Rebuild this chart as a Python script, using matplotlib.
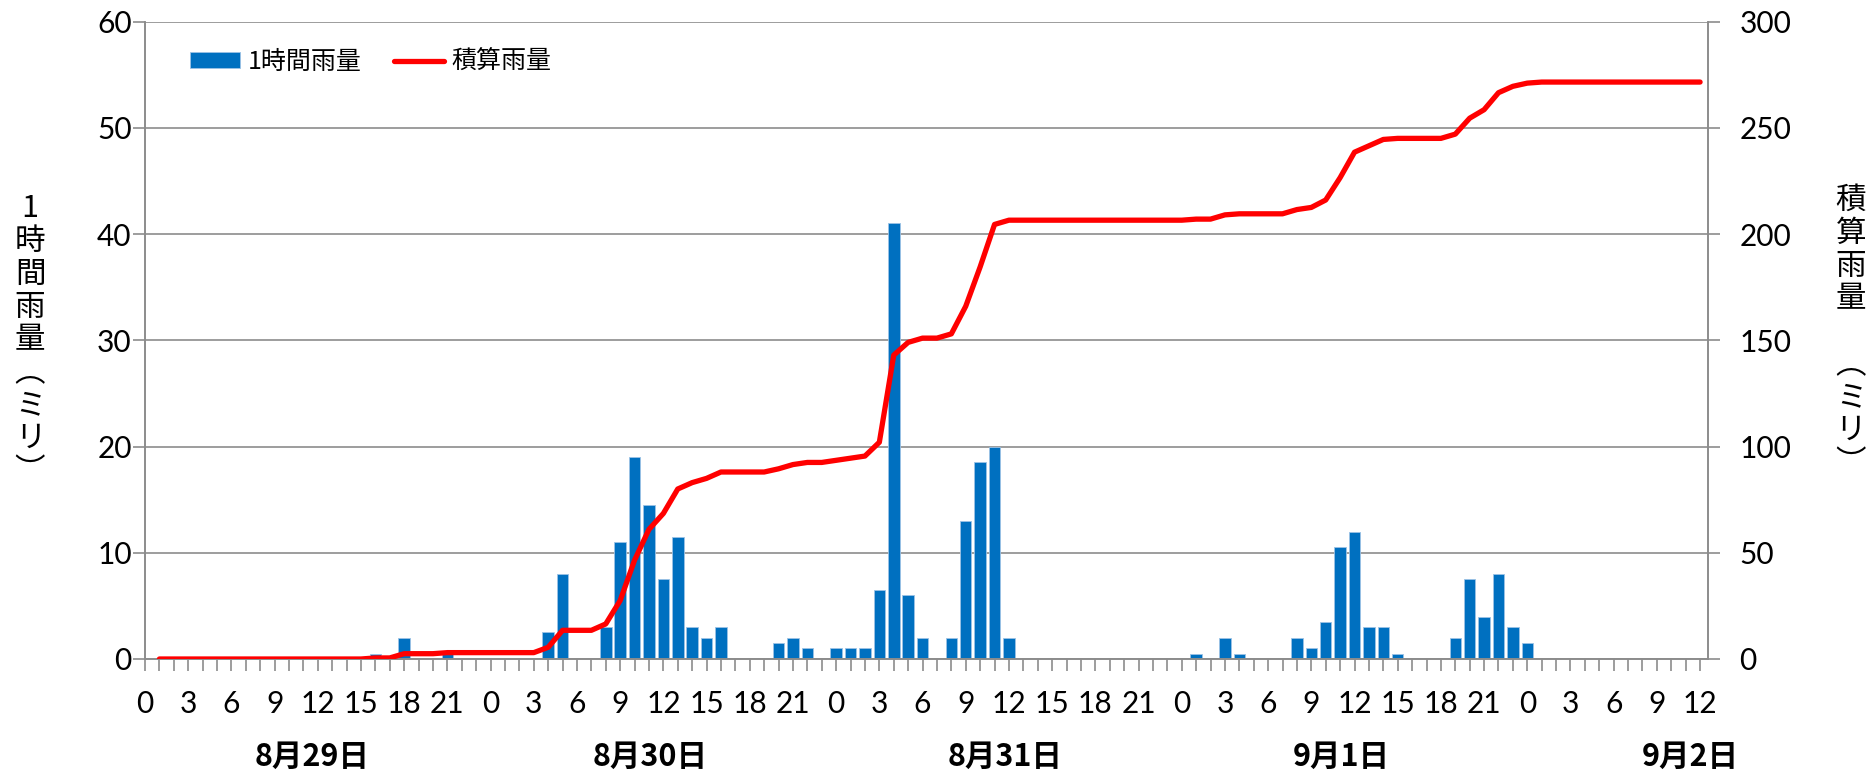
import matplotlib
matplotlib.use("Agg")
import matplotlib.pyplot as plt
from matplotlib.lines import Line2D

# ---------------- data ----------------
# hourly rainfall (mm); index h = 1..108, hour 0 of 8/29 is the left edge
rain_aug29 = [0, 0, 0, 0, 0, 0, 0, 0, 0, 0, 0, 0,
              0, 0, 0, 0.5, 0, 2, 0, 0, 0.5, 0, 0, 0]
rain_aug30 = [0, 0, 0, 2.5, 8, 0, 0, 3, 11, 19, 14.5, 7.5,
              11.5, 3, 2, 3, 0, 0, 0, 1.5, 2, 1, 0, 1]
rain_aug31 = [1, 1, 6.5, 41, 6, 2, 0, 2, 13, 18.5, 20, 2,
              0, 0, 0, 0, 0, 0, 0, 0, 0, 0, 0, 0]
rain_sep01 = [0.5, 0, 2, 0.5, 0, 0, 0, 2, 1, 3.5, 10.5, 12,
              3, 3, 0.5, 0, 0, 0, 2, 7.5, 4, 8, 3, 1.5]
rain_sep02 = [0, 0, 0, 0, 0, 0, 0, 0, 0, 0, 0, 0]

# accumulated rainfall (mm)
cum_aug29 = [0, 0, 0, 0, 0, 0, 0, 0, 0, 0, 0, 0,
             0, 0, 0, 0.5, 0.5, 2.5, 2.5, 2.5, 3, 3, 3, 3]
cum_aug30 = [3, 3, 3, 5.5, 13.5, 13.5, 13.5, 16.5, 27.5, 46.5, 61, 68.5,
             80, 83, 85, 88, 88, 88, 88, 89.5, 91.5, 92.5, 92.5, 93.5]
cum_aug31 = [94.5, 95.5, 102, 143, 149, 151, 151, 153, 166, 184.5, 204.5, 206.5,
             206.5, 206.5, 206.5, 206.5, 206.5, 206.5, 206.5, 206.5, 206.5, 206.5, 206.5, 206.5]
cum_sep01 = [207, 207, 209, 209.5, 209.5, 209.5, 209.5, 211.5, 212.5, 216, 226.5, 238.5,
             241.5, 244.5, 245, 245, 245, 245, 247, 254.5, 258.5, 266.5, 269.5, 271]
cum_sep02 = [271.5, 271.5, 271.5, 271.5, 271.5, 271.5, 271.5, 271.5, 271.5, 271.5, 271.5, 271.5]

hourly = rain_aug29 + rain_aug30 + rain_aug31 + rain_sep01 + rain_sep02
cumulative = cum_aug29 + cum_aug30 + cum_aug31 + cum_sep01 + cum_sep02
hours = list(range(1, len(hourly) + 1))

tick_hours = list(range(0, 109))
tick_labels = [str(h % 24) if h % 3 == 0 else "" for h in tick_hours]

day_labels = ["8月29日", "8月30日", "8月31日", "9月1日", "9月2日"]
day_pos = [11.6, 35.1, 59.7, 83.1, 107.3]

# vertical (stacked) axis titles
left_title = "1\n時\n間\n雨\n量\n︵\nミ\nリ\n︶"
right_title = "積\n算\n雨\n量\n\n︵\nミ\nリ\n︶"

legend_labels = ["1時間雨量", "積算雨量"]

# ---------------- style ----------------
W, H = 1875, 779
NUM_FONT = ["Lato", "Noto Sans CJK JP"]
JP_FONT = ["Noto Sans CJK JP", "DejaVu Sans"]
GRAY = "#8c8c8c"
BLUE = "#0070C0"
RED = "#FF0000"

plt.rcParams["font.family"] = JP_FONT

fig = plt.figure(figsize=(W / 100, H / 100), dpi=100)
ax_left, ax_right, ax_top, ax_bot = 145, 1708, 21.5, 659
ax = fig.add_axes([ax_left / W, (H - ax_bot) / H,
                   (ax_right - ax_left) / W, (ax_bot - ax_top) / H])

bars = ax.bar(hours, hourly, width=0.8, color=BLUE, edgecolor="#9cc2e5",
              linewidth=0.6, zorder=2)
ax.set_xlim(0, 108.55)
ax.set_ylim(0, 60)
ax.set_yticks(range(0, 61, 10))
ax.grid(axis="y", color=GRAY, linewidth=1.2, zorder=0)
ax.set_axisbelow(True)

ax.set_xticks(tick_hours)
ax.set_xticklabels(tick_labels)

for s in ["left", "right", "bottom"]:
    ax.spines[s].set_color(GRAY)
    ax.spines[s].set_linewidth(1.2)
ax.spines["top"].set_visible(False)

ax.tick_params(axis="x", direction="out", length=8.6, width=1.2, color=GRAY,
               pad=14, labelsize=21.5)
ax.tick_params(axis="y", direction="out", length=8.6, width=1.2, color=GRAY,
               pad=1, labelsize=21.5)
for lab in ax.get_xticklabels() + ax.get_yticklabels():
    lab.set_family(NUM_FONT)

ax2 = ax.twinx()
line, = ax2.plot(hours, cumulative, color=RED, linewidth=3.8,
                 solid_capstyle="round", zorder=3)
ax2.set_ylim(0, 300)
ax2.set_yticks(range(0, 301, 50))
ax2.set_xlim(0, 108.55)
for s in ["left", "right", "bottom"]:
    ax2.spines[s].set_color(GRAY)
    ax2.spines[s].set_linewidth(1.2)
ax2.spines["top"].set_visible(False)
ax2.tick_params(axis="y", direction="out", length=8.6, width=1.2, color=GRAY,
                pad=14, labelsize=21.5)
for lab in ax2.get_yticklabels():
    lab.set_family(NUM_FONT)

# day labels under the hour labels
trans = ax.get_xaxis_transform()
for pos, txt in zip(day_pos, day_labels):
    ax.text(pos, (ax_bot - 757) / (ax_bot - ax_top), txt, transform=trans,
            ha="center", va="center", fontsize=22, fontweight="bold",
            family=JP_FONT)

# legend
leg_line = Line2D([0], [0], color=RED, linewidth=3.8, solid_capstyle="round")
leg = ax2.legend([bars, leg_line], legend_labels, ncol=2, frameon=False,
                 loc="center left",
                 bbox_to_anchor=((190 - ax_left) / (ax_right - ax_left),
                                 (ax_bot - 62) / (ax_bot - ax_top)),
                 borderaxespad=0, borderpad=0, handlelength=2.0,
                 handleheight=0.6, handletextpad=0.3, columnspacing=1.3,
                 prop={"family": JP_FONT, "size": 18})

# stacked axis titles
fig.text(30 / W, 1 - 340 / H, left_title, ha="center", va="center",
         multialignment="center", fontsize=22, family=JP_FONT,
         linespacing=1.08)
fig.text(1851 / W, 1 - 332 / H, right_title, ha="center", va="center",
         multialignment="center", fontsize=22, family=JP_FONT,
         linespacing=1.08)

fig.savefig("out.png", dpi=100)
